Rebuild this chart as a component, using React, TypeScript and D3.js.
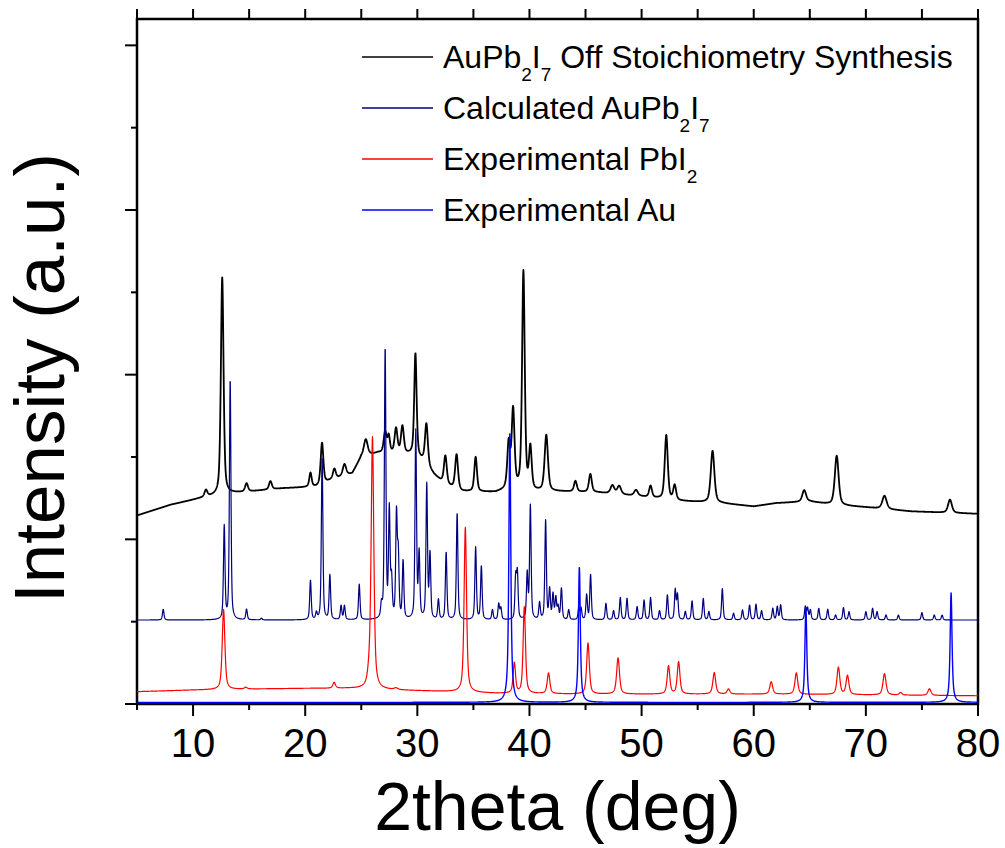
import React, { useMemo } from "react";
import * as d3 from "d3";

// ---------- axes ----------
const X_DOMAIN: [number, number] = [5, 80];
const Y_DOMAIN: [number, number] = [0, 8.32];
const X_MAJOR = [10, 20, 30, 40, 50, 60, 70, 80];
const X_MINOR = [5, 15, 25, 35, 45, 55, 65, 75];
const X_TOP = [5, 10, 15, 20, 25, 30, 35, 40, 45, 50, 55, 60, 65, 70, 75, 80];
const Y_MAJOR = [0, 2, 4, 6, 8];
const Y_MINOR = [1, 3, 5, 7];
const X_TITLE = "2theta (deg)";
const Y_TITLE = "Intensity (a.u.)";

// ---------- series (peak lists: [2theta, height, fwhm]) ----------
const synthBaseline: [number, number][] = [
  [5, 2.29], [8, 2.42], [11, 2.51], [13.5, 2.56], [18, 2.62], [21, 2.64], [22.3, 2.72],
  [24.2, 2.8], [25.0, 3.0], [26.5, 3.05], [29.5, 3.03], [30.5, 2.95], [31.5, 2.78],
  [32.5, 2.66], [34, 2.58], [37, 2.57], [38, 2.6], [39.5, 2.6], [40.5, 2.58], [43, 2.58],
  [46, 2.57], [50, 2.52], [53, 2.47], [57, 2.44], [60, 2.4], [62, 2.44], [65, 2.46],
  [67, 2.42], [70, 2.39], [74, 2.34], [80, 2.31],
];
const synthPeaks: [number, number, number][] = [
  [11.15, 0.08, 0.3], [12.6, 2.64, 0.28], [14.77, 0.1, 0.3], [16.9, 0.1, 0.3],
  [20.47, 0.17, 0.25], [21.5, 0.5, 0.28], [22.6, 0.12, 0.3], [23.5, 0.14, 0.35],
  [25.4, 0.2, 0.4], [27.13, 0.25, 0.3], [27.45, 0.2, 0.25], [28.1, 0.3, 0.3],
  [28.67, 0.33, 0.3], [29.83, 1.25, 0.25], [30.81, 0.5, 0.3], [32.5, 0.35, 0.3],
  [33.5, 0.42, 0.3], [35.2, 0.42, 0.28], [38.15, 0.55, 0.3], [38.54, 0.95, 0.3],
  [39.46, 2.64, 0.28], [40.08, 0.5, 0.28], [41.5, 0.68, 0.35], [44.1, 0.13, 0.3],
  [45.43, 0.22, 0.3], [47.4, 0.1, 0.4], [48.0, 0.1, 0.4], [49.5, 0.07, 0.4],
  [50.8, 0.14, 0.3], [52.2, 0.78, 0.32], [52.95, 0.18, 0.3], [56.33, 0.63, 0.38],
  [64.5, 0.14, 0.4], [67.4, 0.6, 0.4], [71.66, 0.16, 0.45], [77.5, 0.16, 0.4],
];

const calcBaseline: [number, number][] = [[5, 1.02], [80, 1.02]];
const calcPeaks: [number, number, number][] = [
  [7.34, 0.13, 0.16], [12.78, 1.13, 0.16], [13.31, 2.92, 0.16], [14.77, 0.13, 0.16],
  [16.1, 0.02, 0.16], [20.47, 0.48, 0.16], [21.0, 0.08, 0.16], [21.51, 1.98, 0.16],
  [22.2, 0.54, 0.16], [23.2, 0.17, 0.16], [23.5, 0.17, 0.16], [24.82, 0.43, 0.16],
  [26.8, 0.15, 0.16], [27.13, 3.28, 0.16], [27.5, 1.3, 0.16], [27.7, 0.45, 0.16],
  [28.14, 1.25, 0.16], [28.3, 0.75, 0.16], [28.73, 0.7, 0.16], [29.86, 2.28, 0.16],
  [30.16, 0.78, 0.16], [30.84, 1.63, 0.16], [31.13, 0.78, 0.16], [31.88, 0.24, 0.16],
  [32.57, 0.82, 0.16], [33.55, 1.3, 0.16], [35.2, 0.88, 0.16], [35.71, 0.65, 0.16],
  [36.7, 0.12, 0.16], [37.26, 0.19, 0.16], [37.45, 0.14, 0.16], [38.77, 0.5, 0.16],
  [38.92, 0.55, 0.16], [39.8, 0.55, 0.16], [40.08, 1.38, 0.16], [40.9, 0.2, 0.16],
  [41.44, 1.2, 0.16], [41.8, 0.36, 0.16], [42.1, 0.3, 0.16], [42.35, 0.26, 0.16],
  [42.55, 0.15, 0.16], [42.85, 0.38, 0.16], [43.5, 0.12, 0.16], [44.4, 0.14, 0.16],
  [44.6, 0.14, 0.16], [45.1, 0.3, 0.16], [45.45, 0.55, 0.16], [46.82, 0.2, 0.16],
  [47.5, 0.11, 0.16], [48.1, 0.27, 0.16], [48.7, 0.26, 0.16], [49.6, 0.16, 0.16],
  [50.22, 0.24, 0.16], [50.8, 0.27, 0.16], [51.6, 0.11, 0.16], [52.3, 0.3, 0.16],
  [53.0, 0.36, 0.16], [53.2, 0.3, 0.16], [53.9, 0.1, 0.16], [54.5, 0.23, 0.16],
  [55.5, 0.26, 0.16], [56.0, 0.1, 0.16], [57.2, 0.38, 0.16], [58.2, 0.08, 0.16],
  [59.0, 0.12, 0.16], [59.63, 0.18, 0.16], [60.2, 0.19, 0.16], [60.7, 0.11, 0.16],
  [61.7, 0.14, 0.16], [62.1, 0.16, 0.16], [62.4, 0.18, 0.16], [64.6, 0.16, 0.16],
  [64.8, 0.14, 0.16], [65.05, 0.12, 0.16], [65.8, 0.14, 0.16], [66.6, 0.13, 0.16],
  [67.3, 0.06, 0.16], [68.0, 0.15, 0.16], [68.5, 0.1, 0.16], [70.0, 0.1, 0.16],
  [70.6, 0.14, 0.16], [71.0, 0.1, 0.16], [71.8, 0.06, 0.16], [72.9, 0.06, 0.16],
  [75.0, 0.09, 0.16], [76.1, 0.06, 0.16], [76.8, 0.06, 0.16],
];

const pbi2Baseline: [number, number][] = [
  [5, 0.15], [10, 0.17], [14, 0.18], [20, 0.19], [24, 0.19], [28, 0.17], [33, 0.15],
  [37, 0.13], [45, 0.12], [62, 0.12], [80, 0.1],
];
const pbi2Peaks: [number, number, number][] = [
  [12.72, 0.97, 0.28], [14.7, 0.02, 0.3], [22.58, 0.07, 0.28], [25.7, 0.12, 0.3],
  [26.0, 3.05, 0.28], [28.1, 0.02, 0.4], [34.28, 2.0, 0.26], [38.65, 0.37, 0.25],
  [39.54, 1.05, 0.25], [41.7, 0.25, 0.28], [45.22, 0.62, 0.28], [47.9, 0.44, 0.3],
  [52.4, 0.34, 0.28], [53.3, 0.39, 0.28], [56.48, 0.26, 0.3], [57.75, 0.06, 0.3],
  [61.56, 0.15, 0.3], [63.8, 0.26, 0.3], [67.55, 0.33, 0.3], [68.36, 0.23, 0.3],
  [71.66, 0.26, 0.32], [73.1, 0.03, 0.3], [75.67, 0.08, 0.32],
];

const auBaseline: [number, number][] = [[5, 0.02], [80, 0.02]];
const auPeaks: [number, number, number][] = [
  [38.25, 3.29, 0.2], [44.45, 1.65, 0.2], [64.65, 1.16, 0.2], [77.6, 1.33, 0.2],
];

type Series = {
  key: string;
  color: string;
  width: number;
  eta: number;
  baseline: [number, number][];
  peaks: [number, number, number][];
};

const SERIES: Series[] = [
  { key: "synth", color: "#000000", width: 1.8, eta: 0.5, baseline: synthBaseline, peaks: synthPeaks },
  { key: "calc", color: "#000080", width: 1.2, eta: 0.5, baseline: calcBaseline, peaks: calcPeaks },
  { key: "pbi2", color: "#ff0000", width: 1.2, eta: 0.6, baseline: pbi2Baseline, peaks: pbi2Peaks },
  { key: "au", color: "#0000ff", width: 1.4, eta: 0.8, baseline: auBaseline, peaks: auPeaks },
];

// legend labels: [text, isSubscript][]
const LEGEND: { color: string; parts: [string, boolean][] }[] = [
  { color: "#000000", parts: [["AuPb", false], ["2", true], ["I", false], ["7", true], [" Off Stoichiometry Synthesis", false]] },
  { color: "#000080", parts: [["Calculated AuPb", false], ["2", true], ["I", false], ["7", true]] },
  { color: "#ff0000", parts: [["Experimental PbI", false], ["2", true]] },
  { color: "#0000ff", parts: [["Experimental Au", false]] },
];

const FONT = "'Liberation Sans', Arial, Helvetica, sans-serif";

function profile(x: number, c: number, h: number, w: number, eta: number) {
  const d = (x - c) / (w / 2);
  const L = 1 / (1 + d * d);
  const G = Math.exp(-Math.LN2 * d * d);
  return h * (eta * L + (1 - eta) * G);
}

export default function App() {
  const W = 1005;
  const H = 848;
  const left = 137, right = 978, top = 19, bottom = 704;

  const x = d3.scaleLinear().domain(X_DOMAIN).range([left, right]);
  const y = d3.scaleLinear().domain(Y_DOMAIN).range([bottom, top]);

  const paths = useMemo(() => {
    const grid = d3.range(X_DOMAIN[0], X_DOMAIN[1] + 0.0001, 0.02);
    return SERIES.map((s) => {
      const base = d3
        .scaleLinear()
        .domain(s.baseline.map((b) => b[0]))
        .range(s.baseline.map((b) => b[1]))
        .clamp(true);
      const pts: [number, number][] = grid.map((t) => {
        let v = base(t);
        for (const [c, h, w] of s.peaks) {
          if (Math.abs(t - c) < 12) v += profile(t, c, h, w, s.eta);
        }
        return [t, v];
      });
      const line = d3
        .line<[number, number]>()
        .x((d) => x(d[0]))
        .y((d) => y(d[1]));
      return { ...s, d: line(pts) || "" };
    });
  }, []);

  const legendX1 = 362, legendX2 = 433, legendTextX = 443;
  const legendY0 = 57, legendDY = 51;

  return (
    <svg width={W} height={H} viewBox={`0 0 ${W} ${H}`} style={{ display: "block", position: "absolute", left: 0, top: 0, background: "#fff" }}>
      <rect x={0} y={0} width={W} height={H} fill="#fff" />
      <defs>
        <clipPath id="plotClip">
          <rect x={left} y={top} width={right - left} height={bottom - top} />
        </clipPath>
      </defs>

      {/* frame */}
      <rect x={left} y={top} width={right - left} height={bottom - top} fill="none" stroke="#000" strokeWidth={2.5} />

      {/* bottom ticks */}
      {X_MAJOR.map((t) => (
        <line key={"xb" + t} x1={x(t)} x2={x(t)} y1={bottom} y2={bottom + 12} stroke="#000" strokeWidth={2} />
      ))}
      {X_MINOR.map((t) => (
        <line key={"xm" + t} x1={x(t)} x2={x(t)} y1={bottom} y2={bottom + 6} stroke="#000" strokeWidth={2} />
      ))}
      {/* top ticks */}
      {X_TOP.map((t) => (
        <line key={"xt" + t} x1={x(t)} x2={x(t)} y1={top} y2={top - 10} stroke="#000" strokeWidth={2} />
      ))}
      {/* left ticks */}
      {Y_MAJOR.map((v) => (
        <line key={"ym" + v} x1={left - 12} x2={left} y1={y(v)} y2={y(v)} stroke="#000" strokeWidth={2} />
      ))}
      {Y_MINOR.map((v) => (
        <line key={"yn" + v} x1={left - 6} x2={left} y1={y(v)} y2={y(v)} stroke="#000" strokeWidth={2} />
      ))}

      {/* tick labels */}
      {X_MAJOR.map((t) => (
        <text key={"xl" + t} x={x(t)} y={757} textAnchor="middle" fontFamily={FONT} fontSize={40} fill="#000">
          {String(t)}
        </text>
      ))}

      {/* titles */}
      <text x={(left + right) / 2} y={830} textAnchor="middle" fontFamily={FONT} fontSize={68} fill="#000">
        {X_TITLE}
      </text>
      <text transform={`translate(64, 378) rotate(-90)`} textAnchor="middle" fontFamily={FONT} fontSize={71} fill="#000">
        {Y_TITLE}
      </text>

      {/* data */}
      <g clipPath="url(#plotClip)">
        {paths.map((p) => (
          <path key={p.key} d={p.d} fill="none" stroke={p.color} strokeWidth={p.width} strokeLinejoin="round" />
        ))}
      </g>

      {/* legend */}
      {LEGEND.map((item, i) => {
        const ly = legendY0 + i * legendDY;
        let sub = false;
        return (
          <g key={"lg" + i}>
            <line x1={legendX1} x2={legendX2} y1={ly} y2={ly} stroke={item.color} strokeWidth={1.4} />
            <text x={legendTextX} y={ly + 11} fontFamily={FONT} fontSize={32} fill="#000">
              {item.parts.map(([txt, isSub], j) => {
                let dy = 0;
                if (isSub && !sub) dy = 13;
                if (!isSub && sub) dy = -13;
                sub = isSub;
                return (
                  <tspan key={j} dy={dy} fontSize={isSub ? 19 : 32}>
                    {txt}
                  </tspan>
                );
              })}
            </text>
          </g>
        );
      })}
    </svg>
  );
}
